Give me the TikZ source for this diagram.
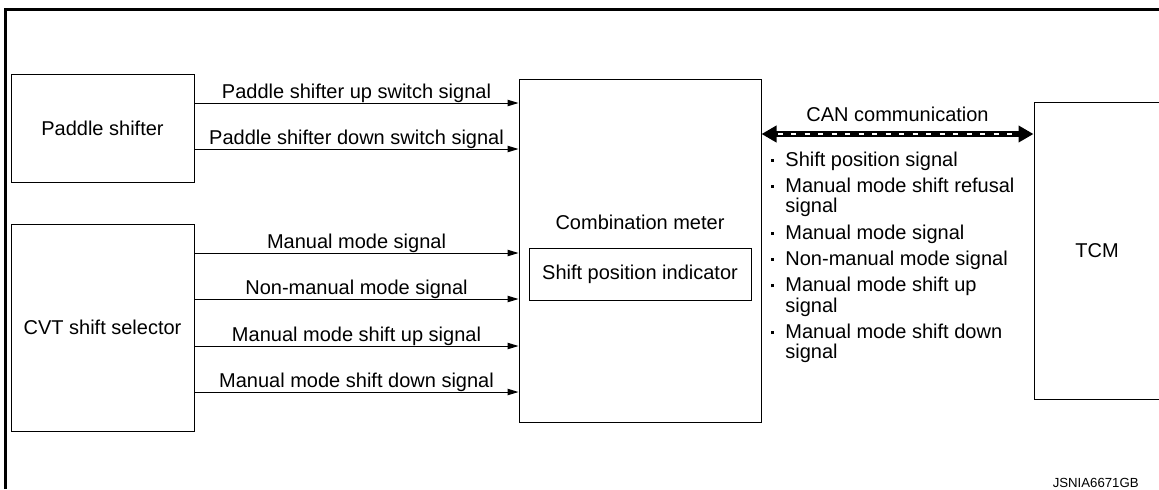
\documentclass[tikz,border=0pt]{standalone}
\usepackage{fontspec}
\setmainfont{Liberation Sans}
\usetikzlibrary{arrows.meta,positioning}

\tikzset{
  unit/.style={draw, line width=0.5pt, inner sep=0pt},
  sig/.style={line width=0.5pt, -{Triangle[length=5.5pt,width=3.2pt]}},
  lbl/.style={midway, anchor=base, yshift=2.5pt, inner sep=0pt},
  can/.style={line width=2.75pt,
    {Triangle[length=7.5pt,width=8pt]}-{Triangle[length=7.5pt,width=8pt]}},
}
\newcommand{\dotmark}{\rule[2.2pt]{1.5pt}{1.5pt}}

\begin{document}
\begin{tikzpicture}[x=0.5pt, y=-0.5pt, font=\fontsize{10}{12}\selectfont] % 1159 x 489 px
  \useasboundingbox (0,0) rectangle (1159,489);
  \draw[line width=1.5pt] (5,489) -- (5,9) -- (1159,9);
  % units
  \node[unit, minimum width=91.5pt, minimum height=54pt] (paddle) at (102.5,128) {Paddle shifter};
  \node[unit, minimum width=91.5pt, minimum height=103.5pt] (cvt) at (102.5,327.5) {CVT shift selector};
  \node[unit, minimum width=121pt, minimum height=171.5pt] (meter) at (640,250.5) {};
  \node[unit, minimum width=111pt, minimum height=26pt] (ind) at (640,274) {Shift position indicator};
  \node (mlabel) at (640,222) {Combination meter};
  \node[unit, minimum width=63pt, minimum height=148.5pt] (tcm) at (1097,250.5) {TCM};
  % input signals
  \draw[sig] (paddle.east |- 0,103) -- (meter.west |- 0,103) node[lbl] {Paddle shifter up switch signal};
  \draw[sig] (paddle.east |- 0,149) -- (meter.west |- 0,149) node[lbl] {Paddle shifter down switch signal};
  \foreach \y/\t in {253/Manual mode signal, 299/Non-manual mode signal,
                     346/Manual mode shift up signal, 392/Manual mode shift down signal}
    \draw[sig] (cvt.east |- 0,\y) -- (meter.west |- 0,\y) node[lbl] {\t};
  % CAN line
  \draw[can] (meter.east |- 0,134) -- (tcm.west |- 0,134)
    node[midway, anchor=base, yshift=6.5pt, inner sep=0pt] (canlbl) {CAN communication};
  \draw[white, line width=1pt, dash pattern=on 2.5pt off 4.25pt,
        shorten <=8pt, shorten >=8pt] (meter.east |- 0,134) -- (tcm.west |- 0,134);
  \node[anchor=base west, inner sep=0pt] (list) at (771,166) {%
    \fontsize{10}{9.75}\selectfont
    \begin{tabular}[t]{@{}l@{\hspace{5.5pt}}l@{}}
      \dotmark & Shift position signal\\[3pt]
      \dotmark & Manual mode shift refusal\\
               & signal\\[3pt]
      \dotmark & Manual mode signal\\[3pt]
      \dotmark & Non-manual mode signal\\[3pt]
      \dotmark & Manual mode shift up\\
               & signal\\[3pt]
      \dotmark & Manual mode shift down\\
               & signal
    \end{tabular}};
  \node[anchor=base east, inner sep=0pt, font=\fontsize{6.6}{8}\selectfont] (code) at (1139,487) {JSNIA6671GB};
\end{tikzpicture}
\end{document}
